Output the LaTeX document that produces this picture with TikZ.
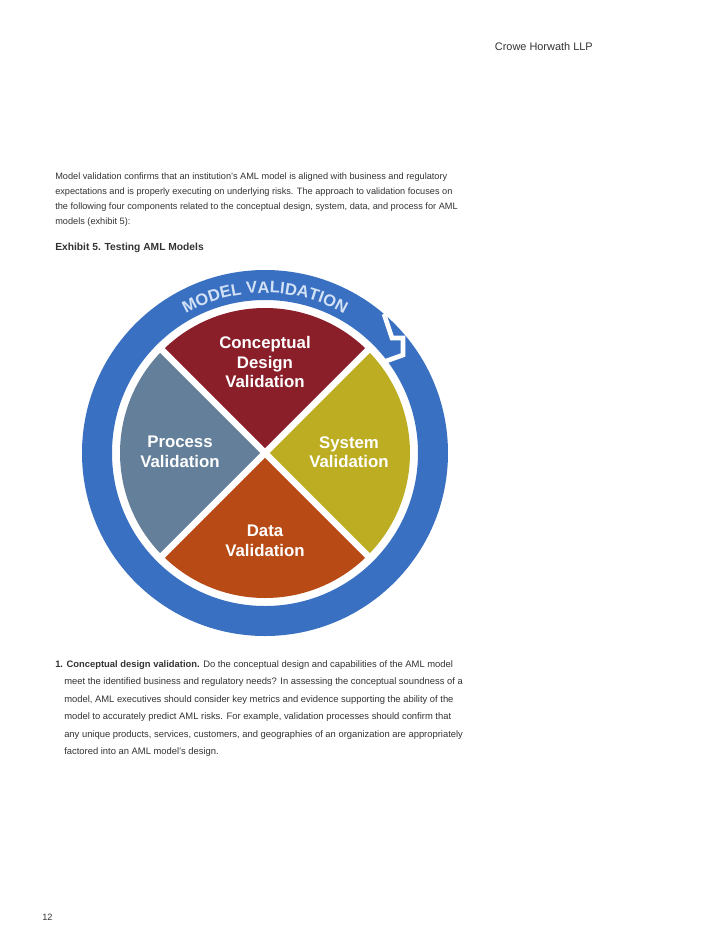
\documentclass[tikz,border=0pt]{standalone}
\usepackage{fontspec}
\setmainfont{Liberation Sans}
\usetikzlibrary{decorations.text}
\definecolor{ringblue}{HTML}{3A70C2}
\definecolor{concol}{HTML}{8A1F2A}
\definecolor{syscol}{HTML}{BCAD22}
\definecolor{datcol}{HTML}{B84A16}
\definecolor{procol}{HTML}{637F99}
\definecolor{ringtext}{HTML}{D2E1F5}
\definecolor{bodytext}{HTML}{333333}
\tikzset{
  body/.style={anchor=base west,inner sep=0pt,font=\fontsize{6.9pt}{8pt}\selectfont,text=bodytext},
  bodyb/.style={body,font=\fontsize{7.05pt}{8pt}\selectfont},
  plabel/.style={align=center,text=white,font=\fontsize{12.6pt}{14.6pt}\selectfont\bfseries,inner sep=0pt},
}
\begin{document}
\begin{tikzpicture}[x=0.75pt,y=-0.75pt]
\useasboundingbox[fill=white] (0,0) rectangle (728,943);
\node[anchor=base east,inner sep=0pt,font=\fontsize{8.2pt}{10pt}\selectfont,text=bodytext] (hdr) at (593,50) {Crowe Horwath LLP};
\node[body] (p1) at (55,179) {Model validation confirms that an institution’s AML model is aligned with business and regulatory};
\node[body] (p2) at (55,194) {expectations and is properly executing on underlying risks. The approach to validation focuses on};
\node[body] (p3) at (55,209) {the following four components related to the conceptual design, system, data, and process for AML};
\node[body] (p4) at (55,224) {models (exhibit 5):};
\node[body,font=\fontsize{7.7pt}{8pt}\selectfont\bfseries] (ttl) at (55,250) {Exhibit 5. Testing AML Models};

\coordinate (C) at (265,453);
\begin{scope}[shift={(C)},x=0.75pt,y=0.75pt]
  \draw[ringblue,line width=22.5pt] (0,0) circle (168);
  \draw[white,line width=3.5pt,line join=miter] (119,139) -- (127,115) -- (138,115) -- (138,98) -- (110,88);
  \fill[concol] (0,0) -- (45:145) arc[start angle=45,end angle=135,radius=145] -- cycle;
  \fill[syscol] (0,0) -- (-45:145) arc[start angle=-45,end angle=45,radius=145] -- cycle;
  \fill[datcol] (0,0) -- (225:145) arc[start angle=225,end angle=315,radius=145] -- cycle;
  \fill[procol] (0,0) -- (135:145) arc[start angle=135,end angle=225,radius=145] -- cycle;
  \draw[white,line width=5pt] (45:150) -- (225:150);
  \draw[white,line width=5pt] (135:150) -- (-45:150);
  \path[decorate,decoration={text along path,text align=center,
     text={|\fontsize{12.4pt}{12pt}\selectfont\bfseries\color{ringtext}|MODEL VALIDATION}}]
     (122:160) arc[start angle=122,end angle=58,radius=160];
\end{scope}
\node[plabel] (con) at (265,362) {Conceptual\\Design\\Validation};
\node[plabel] (pro) at (180,452) {Process\\Validation};
\node[plabel] (sys) at (349,452) {System\\Validation};
\node[plabel] (dat) at (265,541) {Data\\Validation};

\node[bodyb] (q1) at (55,667) {\textbf{1. Conceptual design validation.} Do the conceptual design and capabilities of the AML model};
\node[bodyb] (q2) at (64,684.5) {meet the identified business and regulatory needs? In assessing the conceptual soundness of a};
\node[bodyb] (q3) at (64,702) {model, AML executives should consider key metrics and evidence supporting the ability of the};
\node[bodyb] (q4) at (64,719.5) {model to accurately predict AML risks. For example, validation processes should confirm that};
\node[bodyb] (q5) at (64,737) {any unique products, services, customers, and geographies of an organization are appropriately};
\node[bodyb] (q6) at (64,754.5) {factored into an AML model’s design.};
\node[body] (pg) at (42,920) {12};
\end{tikzpicture}
\end{document}
